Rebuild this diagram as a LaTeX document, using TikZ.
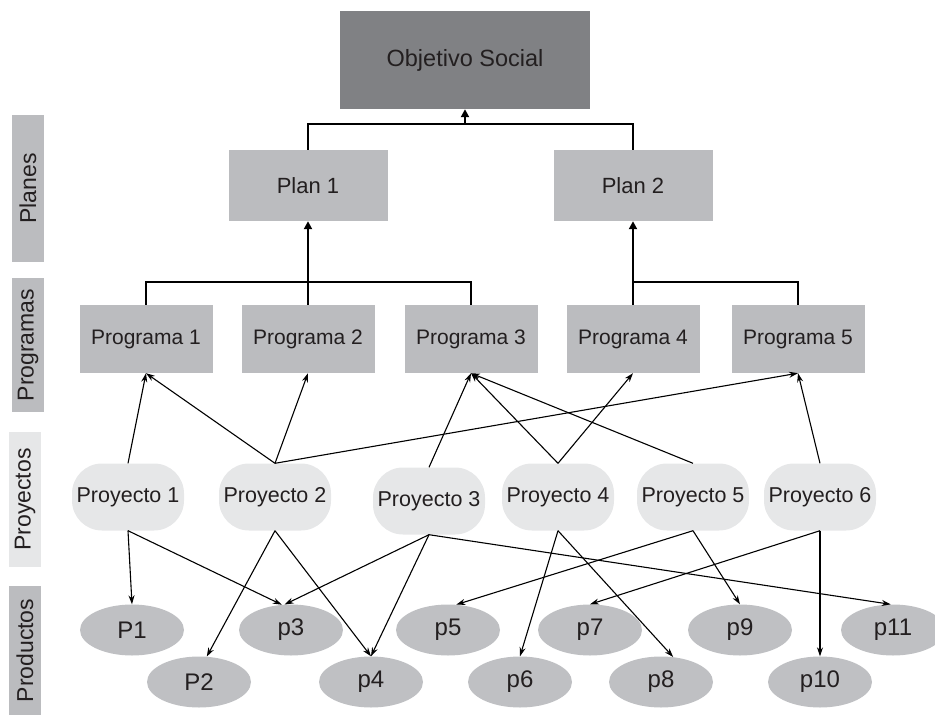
\documentclass[tikz,border=0pt]{standalone}
\usepackage{fontspec}
\setmainfont{Liberation Sans}
\usetikzlibrary{shapes.geometric,arrows.meta}
\definecolor{objfill}{HTML}{808184}
\definecolor{boxfill}{HTML}{BBBCBF}
\definecolor{projfill}{HTML}{E6E7E8}
\definecolor{prodfill}{HTML}{BFC0C3}
\definecolor{txt}{HTML}{231F20}
\tikzset{
  objbox/.style={fill=objfill, minimum width=250pt, minimum height=98pt, inner sep=0pt, text=txt, font=\fontsize{23.5}{26}\selectfont},
  planbox/.style={fill=boxfill, minimum width=159pt, minimum height=71pt, inner sep=0pt, text=txt, font=\fontsize{22}{24}\selectfont},
  progbox/.style={fill=boxfill, minimum width=133pt, minimum height=68pt, inner sep=0pt, text=txt, font=\fontsize{21}{24}\selectfont},
  projbox/.style={fill=projfill, rounded corners=30pt, minimum width=112pt, minimum height=67pt, inner sep=0pt, text=txt, font=\fontsize{21.5}{24}\selectfont},
  prodbox/.style={ellipse, fill=prodfill, minimum width=104pt, minimum height=51pt, inner sep=0pt, text=txt, font=\fontsize{24}{26}\selectfont},
  sidebar/.style={rotate=90, inner sep=0pt, text=txt, font=\fontsize{23}{25}\selectfont},
  treeline/.style={line width=2pt, draw=black},
  treearrow/.style={line width=2pt, draw=black, -{Triangle[length=8pt,width=8pt]}},
  link/.style={line width=1.1pt, draw=black, -{Stealth[length=9pt,width=6pt]}}
}
\begin{document}
\begin{tikzpicture}[x=1pt,y=-1pt]
\useasboundingbox (0,0) rectangle (935,715);
% side bars
\fill[boxfill] (12,115) rectangle (44,262);
\fill[boxfill] (12,278) rectangle (44,412);
\fill[projfill] (9,432) rectangle (41,567);
\fill[boxfill] (9,586) rectangle (41,715);
\node[sidebar] (lplan) at (28,188.5) {Planes};
\node[sidebar] (lprog) at (28,345) {Programas};
\node[sidebar] (lproy) at (25,499.5) {Proyectos};
\node[sidebar] (lprod) at (25,650.5) {Productos};
% nodes
\node[objbox] (obj) at (465,60) {Objetivo Social};
\node[planbox] (plan1) at (308,185.5) {Plan 1};
\node[planbox] (plan2) at (633,185.5) {Plan 2};
\node[progbox] (prog1) at (146,339) {Programa 1};
\node[progbox] (prog2) at (308,339) {Programa 2};
\node[progbox] (prog3) at (471,339) {Programa 3};
\node[progbox] (prog4) at (633,339) {Programa 4};
\node[progbox] (prog5) at (798,339) {Programa 5};
\node[projbox] (pr1) at (128,497) {Proyecto 1};
\node[projbox] (pr2) at (275,497) {Proyecto 2};
\node[projbox] (pr3) at (429,501) {Proyecto 3};
\node[projbox] (pr4) at (558,497) {Proyecto 4};
\node[projbox] (pr5) at (693,497) {Proyecto 5};
\node[projbox] (pr6) at (820,497) {Proyecto 6};
\node[prodbox] (P1) at (132,630) {P1};
\node[prodbox] (p3) at (291,630) {p3};
\node[prodbox] (p5) at (448,630) {p5};
\node[prodbox] (p7) at (590,630) {p7};
\node[prodbox] (p9) at (740,630) {p9};
\node[prodbox] (p11) at (893,630) {p11};
\node[prodbox] (P2) at (199,682) {P2};
\node[prodbox] (p4) at (371,682) {p4};
\node[prodbox] (p6) at (520,682) {p6};
\node[prodbox] (p8) at (661,682) {p8};
\node[prodbox] (p10) at (820,682) {p10};
% top tree
\coordinate (busA) at (465,124);
\draw[treeline] (plan1.north) |- (busA) -| (plan2.north);
\draw[treearrow] (busA) -- (obj.south);
\coordinate (busB) at (308,282);
\draw[treeline] (prog1.north) |- (prog3.north |- busB) -- (prog3.north);
\draw[treearrow] (prog2.north) -- (plan1.south);
\coordinate (busC) at (633,282);
\draw[treeline] (plan2.south |- busC) -| (prog5.north);
\draw[treearrow] (prog4.north) -- (plan2.south);
% proyectos -> programas
\draw[link] (pr1.north) -- (prog1.south);
\draw[link] (pr2.north) -- (prog1.south);
\draw[link] (pr2.north) -- (prog2.south);
\draw[link] (pr2.north) -- (prog5.south);
\draw[link] (pr3.north) -- (prog3.south);
\draw[link] (pr4.north) -- (prog3.south);
\draw[link] (pr4.north) -- (prog4.south);
\draw[link] (pr5.north) -- (prog3.south);
\draw[link] (pr6.north) -- (prog5.south);
% proyectos -> productos
\draw[link] (pr1.south) -- (P1.north);
\draw[link] (pr1.south) -- (p3.110);
\draw[link] (pr2.south) -- (P2.73);
\draw[link] (pr2.south) -- (p4.north);
\draw[link] (pr3.south) -- (p3.104);
\draw[link] (pr3.south) -- (p4.north);
\draw[link] (pr3.south) -- (p11.95);
\draw[link] (pr4.south) -- (p6.north);
\draw[link] (pr4.south) -- (p8.64);
\draw[link] (pr5.south) -- (p5.72);
\draw[link] (pr5.south) -- (p9.north);
\draw[link] (pr6.south) -- (p7.north);
\draw[link] (pr6.south) -- (p10.north);
\end{tikzpicture}
\end{document}
